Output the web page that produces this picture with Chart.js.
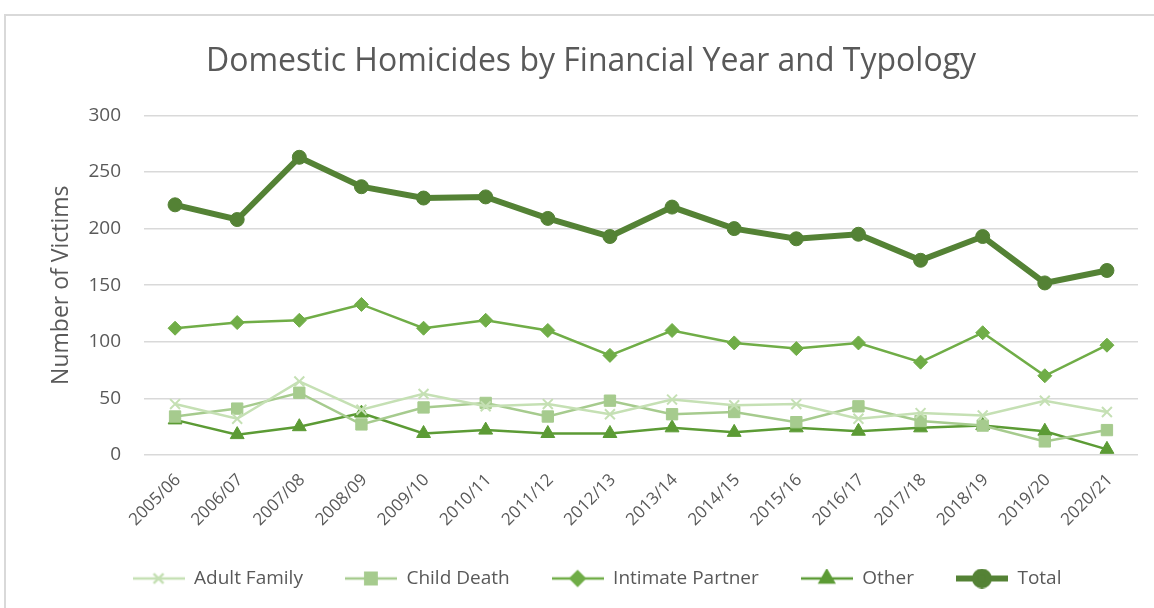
<!DOCTYPE html>
<html>
<head>
<meta charset="utf-8">
<script src="https://cdn.jsdelivr.net/npm/chart.js@4"></script>
<style>
  html, body { margin: 0; padding: 0; background: #fff; overflow: hidden; }
  #frame { position: absolute; left: 4px; top: 14px; width: 1200px; height: 650px;
           border-top: 2px solid #d9d9d9; border-left: 2px solid #d9d9d9; }
  #wrap { position: absolute; left: 0; top: 0; width: 1154px; height: 608px; }
</style>
</head>
<body>
<div id="frame"></div>
<div id="wrap"><canvas id="graph" width="1154" height="608"></canvas></div>
<script>
'use strict';

// 年度ラベル
const years = ['2005/06','2006/07','2007/08','2008/09','2009/10','2010/11','2011/12','2012/13',
               '2013/14','2014/15','2015/16','2016/17','2017/18','2018/19','2019/20','2020/21'];

// 種類ごとの件数
const adultFamily     = [45, 32, 65, 40, 54, 43, 45, 36, 49, 44, 45, 32, 37, 35, 48, 38];
const childDeath      = [34, 41, 55, 27, 42, 46, 34, 48, 36, 38, 29, 43, 30, 26, 12, 22];
const intimatePartner = [112, 117, 119, 133, 112, 119, 110, 88, 110, 99, 94, 99, 82, 108, 70, 97];
const other           = [31, 18, 25, 37, 19, 22, 19, 19, 24, 20, 24, 21, 24, 26, 21, 5];
const total           = [221, 208, 263, 237, 227, 228, 209, 193, 219, 200, 191, 195, 172, 193, 152, 163];

const yTicks = [0, 50, 100, 150, 200, 250, 300];

const textColor = '#595959';
const gridColor = '#d9d9d9';
const fontFamily = "'Open Sans', 'Noto Sans', sans-serif";

// 凡例用の小さな画像（線＋マーカー）
function legendIcon(color, lineWidth, style, r) {
  let c = document.createElement('canvas');
  c.width = 52; c.height = 20;
  let ctx = c.getContext('2d');
  ctx.strokeStyle = color;
  ctx.fillStyle = color;
  ctx.lineWidth = lineWidth;
  ctx.beginPath();
  ctx.moveTo(0, 10); ctx.lineTo(52, 10);
  ctx.stroke();
  Chart.helpers.drawPoint(ctx, {pointStyle: style, radius: r, borderWidth: style === 'crossRot' ? 2 : 1, rotation: 0}, 26, 10);
  return c;
}

const series = [
  {label: 'Adult Family', data: adultFamily, color: '#c5e0b4', style: 'crossRot', r: 7, lw: 2.5},
  {label: 'Child Death', data: childDeath, color: '#a6cb8e', style: 'rect', r: 8, lw: 2.5},
  {label: 'Intimate Partner', data: intimatePartner, color: '#70ad47', style: 'rectRot', r: 7, lw: 2.5},
  {label: 'Other', data: other, color: '#5c9b35', style: 'triangle', r: 8, lw: 2.5},
  {label: 'Total', data: total, color: '#548235', style: 'circle', r: 7, lw: 6}
];

let datasets = series.map(s => ({
  label: s.label,
  data: s.data,
  borderColor: s.color,
  backgroundColor: s.color,
  borderWidth: s.lw,
  pointStyle: s.style,
  pointRadius: s.r,
  pointBorderWidth: s.style === 'crossRot' ? 2 : 1,
  pointBackgroundColor: s.color,
  pointBorderColor: s.color,
  tension: 0,
  legendIcon: legendIcon(s.color, s.lw, s.style, s.r)
}));

// タイトルと凡例は枠全体（画面の右にはみ出している）の中央に寄せる
const centerBoxes = {
  id: 'centerBoxes',
  afterLayout(c) {
    if (c.titleBlock) {
      c.titleBlock.left = 0;
      c.titleBlock.right = 1182;
      c.titleBlock.width = 1182;
    }
    if (c.legend) {
      c.legend.left = 0;
      c.legend.right = 1194;
      c.legend.width = 1194;
    }
  }
};

let chart = new Chart(document.querySelector('#graph').getContext('2d'), {
  type: 'line',
  data: { labels: years, datasets: datasets },
  plugins: [centerBoxes],
  options: {
    responsive: false,
    animation: false,
    layout: { padding: { left: 0, right: 16, top: 0, bottom: 10 } },
    plugins: {
      title: {
        display: true,
        text: 'Domestic Homicides by Financial Year and Typology',
        color: textColor,
        font: { family: fontFamily, size: 32, weight: 'normal' },
        padding: { top: 43, bottom: 34 }
      },
      legend: {
        position: 'bottom',
        labels: {
          color: textColor,
          font: { family: fontFamily, size: 19 },
          usePointStyle: true,
          pointStyleWidth: 52,
          padding: 42,
          generateLabels: function(c) {
            return c.data.datasets.map((d, i) => ({
              text: d.label,
              fillStyle: d.borderColor,
              strokeStyle: d.borderColor,
              fontColor: textColor,
              pointStyle: d.legendIcon,
              datasetIndex: i,
              hidden: false
            }));
          }
        }
      },
      tooltip: { enabled: false }
    },
    scales: {
      x: {
        offset: true,
        grid: { display: false },
        border: { display: false },
        ticks: {
          color: textColor,
          font: { family: fontFamily, size: 17 },
          minRotation: 45, maxRotation: 45, padding: 7, labelOffset: 3
        },
        afterFit: function(scale) { scale.height = 72; }
      },
      y: {
        min: 0, max: 300,
        afterBuildTicks: function(scale) { scale.ticks = yTicks.map(v => ({value: v})); },
        grid: { color: gridColor, lineWidth: 1.5, drawTicks: false },
        border: { display: false },
        ticks: {
          color: textColor,
          font: { family: fontFamily, size: 19 },
          padding: 23
        },
        title: {
          display: true,
          text: 'Number of Victims',
          color: textColor,
          font: { family: fontFamily, size: 23 },
          padding: { top: 48, bottom: 0 }
        },
        afterFit: function(scale) { scale.width = 144; }
      }
    }
  }
});
</script>
</body>
</html>
